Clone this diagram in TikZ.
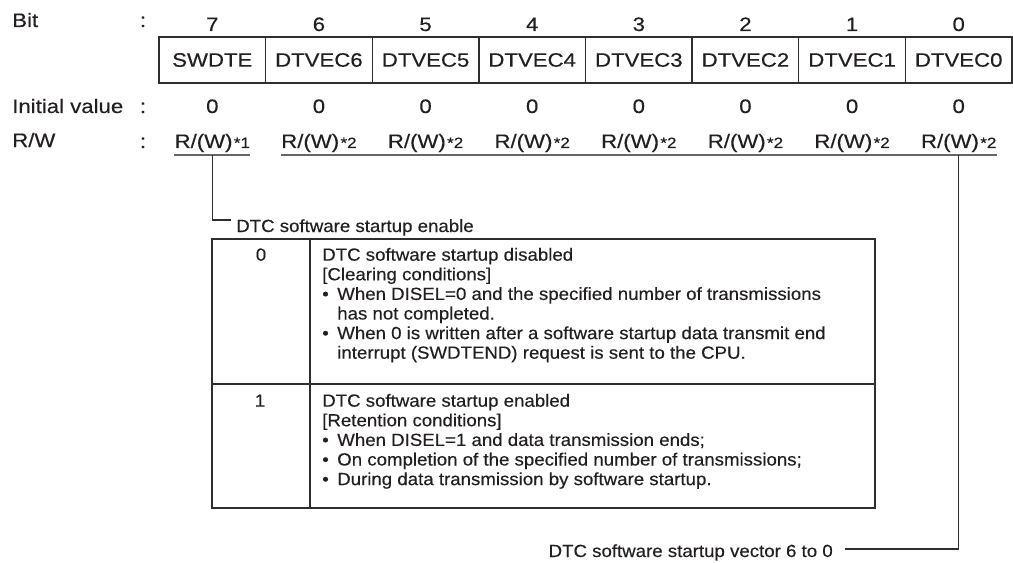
\documentclass[tikz,border=0pt]{standalone}
\usepackage{fontspec}
\setmainfont{Liberation Sans}[FakeStretch=1.06,FakeBold=0.35]
\newfontfamily\regfam{Liberation Sans}[FakeStretch=1.14,FakeBold=0.35]
\newcommand\regsz{\regfam\fontsize{14.6pt}{16.5pt}\selectfont}
\newcommand\tabsz{\fontsize{13.2pt}{14.7pt}\selectfont}
\newcommand\supsz{\regfam\fontsize{11.2pt}{12pt}\selectfont}
\newcommand\bul{\makebox[11.25pt][l]{\textbullet}}
\definecolor{txt}{HTML}{231F20}
\definecolor{ln}{HTML}{2E2E2E}
\definecolor{ul}{HTML}{666666}
\tikzset{
  lbl/.style={inner sep=0pt, font=\regsz, text=txt},
  cellbox/.style={draw=ln, line width=1pt, minimum width=79.97pt, minimum height=34.5pt, inner sep=0pt, font=\regsz, text=txt},
  tt/.style={inner sep=0pt, font=\tabsz, text=txt, anchor=base west},
  uline/.style={draw=ul, line width=1pt},
  conn/.style={draw=ln, line width=0.85pt},
  tbl/.style={draw=ln, line width=1.2pt},
}
\begin{document}
\begin{tikzpicture}[x=0.75pt,y=-0.75pt]
\useasboundingbox (0,0) rectangle (1013,563);
% row labels
\node[lbl,anchor=base west] (lbit) at (12,27) {Bit};
\node[lbl,anchor=base] (cbit) at (143,27) {:};
\node[lbl,anchor=base west] (liv) at (12,113) {Initial value};
\node[lbl,anchor=base] (civ) at (143,113) {:};
\node[lbl,anchor=base west] (lrw) at (12,147) {R/W};
\node[lbl,anchor=base] (crw) at (143,148) {:};
% register
\foreach \b/\nm [count=\i from 0] in {7/SWDTE,6/DTVEC6,5/DTVEC5,4/DTVEC4,3/DTVEC3,2/DTVEC2,1/DTVEC1,0/DTVEC0}{
  \pgfmathsetmacro\cx{159+(\i+0.5)*106.625}
  \node[lbl,anchor=base] (bit\b) at (\cx,31) {\b};
  \node[cellbox] (reg\b) at (\cx,60) {\nm};
  \node[lbl,anchor=base] (iv\b) at (\cx,113) {0};
}
\node[lbl,anchor=base] (rw7) at (212.3,148) {R/(W)\kern1pt{\supsz*1}};
\foreach \b [count=\i from 1] in {6,5,4,3,2,1,0}{
  \pgfmathsetmacro\cx{159+(\i+0.5)*106.625}
  \node[lbl,anchor=base] (rw\b) at (\cx,148) {R/(W)\kern1pt{\supsz*2}};
}
\coordinate (uly) at (0,155);
\draw[uline] (rw7.west |- uly) -- (rw7.east |- uly);
\draw[uline] (rw6.west |- uly) -- (rw0.east |- uly);
% connectors and labels
\node[tt] (en) at (236,232) {DTC software startup enable};
\coordinate (k1) at (231,220);
\draw[conn] (rw7.center |- uly) |- (k1);
\node[tt,anchor=base east] (vec) at (833,557) {DTC software startup vector 6 to 0};
\coordinate (k2) at (845,549);
\draw[conn] (rw0.center |- uly) |- (k2);
% table
\draw[tbl] (212,239) rectangle (875,508);
\draw[tbl] (310,239) -- (310,508);
\draw[tbl] (212,384) -- (875,384);
\node[tt,anchor=base] (v0) at (261,260.7) {0};
\node[tt] (a0) at (322,260.7) {DTC software startup disabled};
\node[tt] (a1) at (322,280.3) {[Clearing conditions]};
\node[tt] (a2) at (322,299.9) {\bul When DISEL=0 and the specified number of transmissions};
\node[tt] (a3) at (322,319.5) {\hspace*{11.25pt}has not completed.};
\node[tt] (a4) at (322,339.1) {\bul When 0 is written after a software startup data transmit end};
\node[tt] (a5) at (322,358.7) {\hspace*{11.25pt}interrupt (SWDTEND) request is sent to the CPU.};
\node[tt,anchor=base] (v1) at (260,406.7) {1};
\node[tt] (b0) at (322,406.7) {DTC software startup enabled};
\node[tt] (b1) at (322,426.3) {[Retention conditions]};
\node[tt] (b2) at (322,445.9) {\bul When DISEL=1 and data transmission ends;};
\node[tt] (b3) at (322,465.5) {\bul On completion of the specified number of transmissions;};
\node[tt] (b4) at (322,485.1) {\bul During data transmission by software startup.};
\end{tikzpicture}
\end{document}
